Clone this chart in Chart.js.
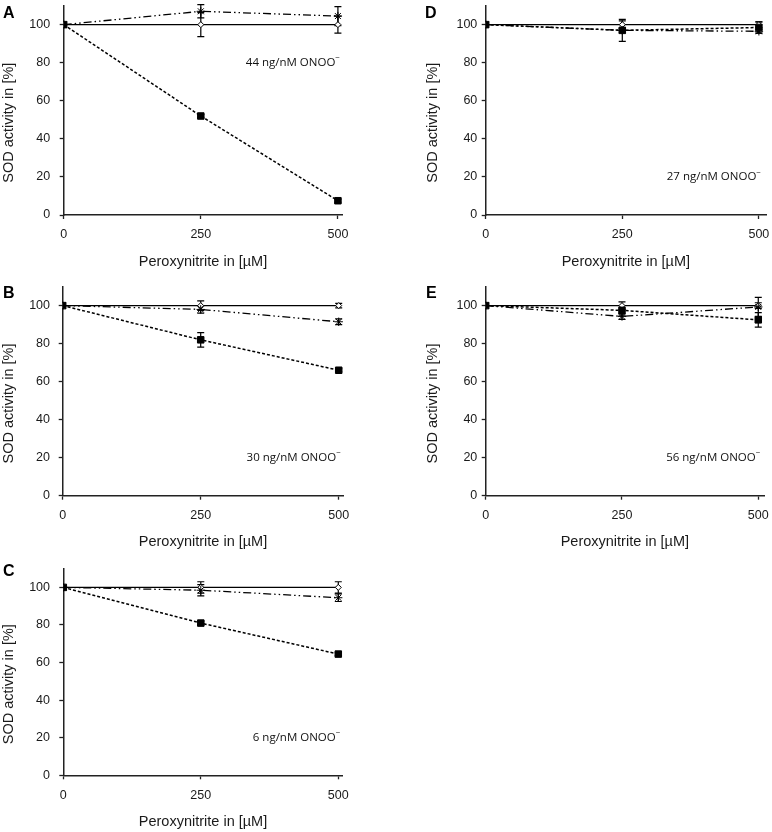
<!DOCTYPE html>
<html>
<head>
<meta charset="utf-8">
<script src="https://cdn.jsdelivr.net/npm/chart.js@4.4.0/dist/chart.umd.min.js"></script>
<style>
html, body { margin: 0; padding: 0; background: #fff; width: 772px; height: 832px; overflow: hidden; }
canvas { position: absolute; }
.letra { position: absolute; font: bold 16px "Liberation Sans", Arial, sans-serif; line-height: 16px; color: #000; }
</style>
</head>
<body>
<canvas id="chartA"></canvas>
<canvas id="chartB"></canvas>
<canvas id="chartC"></canvas>
<canvas id="chartD"></canvas>
<canvas id="chartE"></canvas>
<div class="letra" style="left:3px;top:4.7px">A</div>
<div class="letra" style="left:3px;top:284.7px">B</div>
<div class="letra" style="left:3px;top:563px">C</div>
<div class="letra" style="left:425px;top:4.7px">D</div>
<div class="letra" style="left:426px;top:284.7px">E</div>
<script>
// datos
const dosis = [0, 250, 500];
const ticksX = [0, 250, 500];
const ticksY = [0, 20, 40, 60, 80, 100];

// A
const controlA = [100, 100, 100];
const controlErrA = [0, 6.3, 4.5];
const estrellaA = [100, 107, 104.5];
const estrellaErrA = [0, 3.5, 5];
const cuadroA = [100, 52, 7.5];
const cuadroErrA = [0, 0.8, 0.8];

// B
const controlB = [100, 100, 100];
const controlErrB = [0, 2.5, 1.2];
const estrellaB = [100, 98, 91.5];
const estrellaErrB = [0, 2, 1.5];
const cuadroB = [100, 82, 66];
const cuadroErrB = [0, 3.8, 0.8];

// C
const controlC = [100, 100, 100];
const controlErrC = [0, 3, 3];
const estrellaC = [100, 98.5, 94.5];
const estrellaErrC = [0, 3, 2];
const cuadroC = [100, 81, 64.5];
const cuadroErrC = [0, 1, 0.8];

// D
const controlD = [100, 100, 100];
const controlErrD = [0, 2, 1.5];
const estrellaD = [100, 97, 96.5];
const estrellaErrD = [0, 1, 1];
const cuadroD = [100, 97, 98.5];
const cuadroErrD = [0, 5.8, 3];

// E
const controlE = [100, 100, 100];
const controlErrE = [0, 2, 1.5];
const estrellaE = [100, 94.3, 99.3];
const estrellaErrE = [0, 1.5, 5];
const cuadroE = [100, 97.5, 92.5];
const cuadroErrE = [0, 2.5, 3.8];

const notas = ['44 ng/nM ONOO', '30 ng/nM ONOO', '6 ng/nM ONOO', '27 ng/nM ONOO', '56 ng/nM ONOO'];
const notasY = [80, 20, 20, 20, 20];

const tituloX = 'Peroxynitrite in [µM]';
const tituloY = 'SOD activity in [%]';

const fuente = '"Liberation Sans", Arial, sans-serif';

// posicion de cada panel en la pagina (px absolutos)
const paneles = [
    { id: 'chartA', left: 0, top: 0, w: 386, h: 275, pl: 63.7, pr: 342.3, pt: 2.0, pb: 215, xmax: 508, tickPad: 9.5, tituloOff: 54.5,
      series: [cuadroA, estrellaA, controlA], errores: [cuadroErrA, estrellaErrA, controlErrA], nota: 0 },
    { id: 'chartB', left: 0, top: 281, w: 386, h: 275, pl: 62.7, pr: 343.3, pt: 283.4, pb: 495.7, xmax: 508.3, tickPad: 8.7, tituloOff: 53.7,
      series: [cuadroB, estrellaB, controlB], errores: [cuadroErrB, estrellaErrB, controlErrB], nota: 1 },
    { id: 'chartC', left: 0, top: 563, w: 386, h: 269, pl: 63.3, pr: 342.7, pt: 565.2, pb: 775.3, xmax: 508, tickPad: 9.3, tituloOff: 54.3,
      series: [cuadroC, estrellaC, controlC], errores: [cuadroErrC, estrellaErrC, controlErrC], nota: 2 },
    { id: 'chartD', left: 386, top: 0, w: 386, h: 275, pl: 485.7, pr: 766, pt: 2.0, pb: 215, xmax: 513, tickPad: 4.4, tituloOff: 52.4,
      series: [cuadroD, estrellaD, controlD], errores: [cuadroErrD, estrellaErrD, controlErrD], nota: 3 },
    { id: 'chartE', left: 386, top: 281, w: 386, h: 275, pl: 485.7, pr: 764, pt: 283.7, pb: 495.7, xmax: 510.5, tickPad: 4.4, tituloOff: 52.4,
      series: [cuadroE, estrellaE, controlE], errores: [cuadroErrE, estrellaErrE, controlErrE], nota: 4 }
];

// barras de error, texto de la nota y titulo vertical
const extras = {
    id: 'extras',
    beforeDatasetsDraw(chart) {
        const ctx = chart.ctx;
        const sx = chart.scales.x, sy = chart.scales.y;
        ctx.save();
        ctx.strokeStyle = '#000';
        ctx.lineWidth = 1.2;
        ctx.setLineDash([]);
        chart.data.datasets.forEach(ds => {
            ds.errores.forEach((e, i) => {
                if (!e) return;
                const px = sx.getPixelForValue(dosis[i]);
                const t = sy.getPixelForValue(ds.data[i].y + e);
                const b = sy.getPixelForValue(ds.data[i].y - e);
                ctx.beginPath();
                ctx.moveTo(px, t); ctx.lineTo(px, b);
                ctx.moveTo(px - 3.5, t); ctx.lineTo(px + 3.5, t);
                ctx.moveTo(px - 3.5, b); ctx.lineTo(px + 3.5, b);
                ctx.stroke();
            });
        });
        ctx.restore();
    },
    afterDraw(chart, args, opts) {
        const ctx = chart.ctx;
        const sx = chart.scales.x, sy = chart.scales.y;
        ctx.save();
        ctx.fillStyle = '#111';
        // nota
        ctx.textBaseline = 'middle';
        const texto = notas[opts.nota];
        const xr = sx.getPixelForValue(500) + 2;
        const yc = sy.getPixelForValue(notasY[opts.nota]);
        ctx.font = '8px "Open Sans", sans-serif';
        const wSup = ctx.measureText('−').width;
        ctx.textAlign = 'right';
        ctx.fillText('−', xr, yc - 4.5);
        ctx.font = '11.5px "Open Sans", sans-serif';
        ctx.fillText(texto, xr - wSup, yc);
        // titulo eje y
        ctx.font = '14.5px ' + fuente;
        ctx.fillStyle = '#1a1a1a';
        ctx.textAlign = 'center';
        ctx.translate(chart.chartArea.left - opts.tituloOff, sy.getPixelForValue(48.5));
        ctx.rotate(-Math.PI / 2);
        ctx.fillText(tituloY, 0, 0);
        ctx.restore();
    }
};

document.addEventListener('DOMContentLoaded', function () {
    paneles.forEach(p => {
        const cv = document.getElementById(p.id);
        cv.width = p.w; cv.height = p.h;
        cv.style.left = p.left + 'px';
        cv.style.top = p.top + 'px';
        cv.style.width = p.w + 'px';
        cv.style.height = p.h + 'px';

        const anchoY = 63;
        const padLeft = (p.pl - p.left) - anchoY;
        const padRight = (p.left + p.w) - p.pr;
        const padTop = p.pt - p.top;
        const altoX = (p.top + p.h) - p.pb;
        const tituloPadAbajo = altoX - 46.5 - 8.7;

        const estilos = [
            { borderDash: [3, 2], pointStyle: 'rect', pointRadius: 4.6, bg: '#000', borderWidth: 1.5 },
            { borderDash: [8, 3, 1.5, 3, 1.5, 3], pointStyle: 'star', pointRadius: 4.2, bg: '#fff', borderWidth: 1.3 },
            { borderDash: [], pointStyle: 'rectRot', pointRadius: 3, bg: '#fff', borderWidth: 1.3 }
        ];

        const datasets = p.series.map((s, k) => ({
            data: dosis.map((x, i) => ({ x: x, y: s[i] })),
            errores: p.errores[k],
            borderColor: '#000',
            borderWidth: estilos[k].borderWidth,
            borderDash: estilos[k].borderDash,
            pointStyle: estilos[k].pointStyle,
            pointRadius: estilos[k].pointRadius,
            pointBackgroundColor: estilos[k].bg,
            pointBorderColor: '#000',
            pointBorderWidth: 1,
            tension: 0,
            fill: false
        }));

        new Chart(cv.getContext('2d'), {
            type: 'line',
            data: { datasets: datasets },
            plugins: [extras],
            options: {
                responsive: false,
                animation: false,
                events: [],
                layout: { padding: { left: padLeft, right: padRight, top: padTop, bottom: 0 } },
                plugins: {
                    legend: { display: false },
                    tooltip: { enabled: false },
                    extras: { nota: p.nota, tituloOff: p.tituloOff }
                },
                scales: {
                    x: {
                        type: 'linear',
                        min: 0,
                        max: p.xmax,
                        afterBuildTicks: s => { s.ticks = ticksX.map(v => ({ value: v })); },
                        afterFit: s => { s.height = altoX; s.paddingLeft = 0; s.paddingRight = 0; },
                        grid: { display: true, drawOnChartArea: false, drawTicks: true, tickLength: 4, tickColor: '#222', tickWidth: 1.3 },
                        border: { display: true, color: '#222', width: 1.5 },
                        ticks: { color: '#1a1a1a', padding: 8.5, maxRotation: 0, font: { family: fuente, size: 12.5 } },
                        title: { display: true, text: tituloX, color: '#1a1a1a', padding: { top: 0, bottom: tituloPadAbajo }, font: { family: fuente, size: 14.5 } }
                    },
                    y: {
                        min: 0,
                        max: 110,
                        afterBuildTicks: s => { s.ticks = ticksY.map(v => ({ value: v })); },
                        afterFit: s => { s.width = anchoY; s.paddingTop = 0; s.paddingBottom = 0; },
                        grid: { display: true, drawOnChartArea: false, drawTicks: true, tickLength: 4, tickColor: '#222', tickWidth: 1.3 },
                        border: { display: true, color: '#222', width: 1.5 },
                        ticks: { color: '#1a1a1a', padding: p.tickPad, font: { family: fuente, size: 12.5 } }
                    }
                }
            }
        });
    });
});
</script>
</body>
</html>
